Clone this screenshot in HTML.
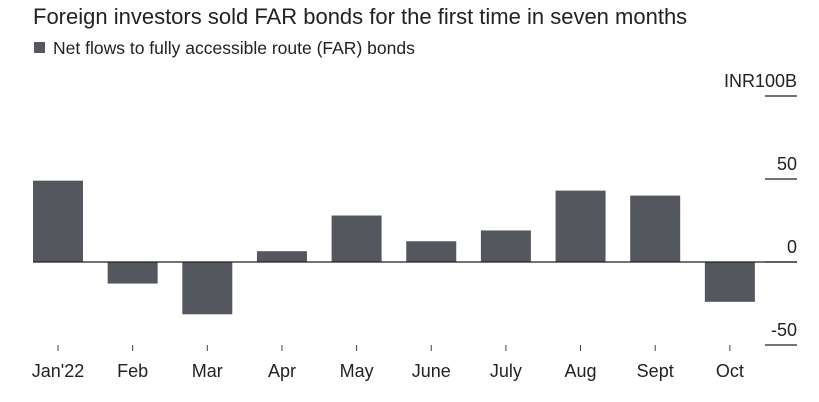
<!DOCTYPE html>
<html><head><meta charset="utf-8"><style>
body{margin:0;background:#fff;width:819px;height:402px;overflow:hidden;font-family:"Liberation Sans",sans-serif}
</style></head><body>
<svg width="819" height="402" style="position:absolute;left:0;top:0">
<text x="33" y="24" font-size="22" fill="#222">Foreign investors sold FAR bonds for the first time in seven months</text>
<rect x="34" y="42" width="11" height="11" fill="#55575f"/>
<text x="53" y="54" font-size="17.5" fill="#222">Net flows to fully accessible route (FAR) bonds</text>
<g id="axis"></g><g id="bars"></g><g id="zero"></g><g id="xaxis"></g>
</svg>
<script>
const categories=["Jan'22","Feb","Mar","Apr","May","June","July","Aug","Sept","Oct"];
const values=[49,-13,-31.5,6.5,28,12.5,19,43,40,-24];
const ticks=[100,50,0,-50];
const tickLabels=["INR100B","50","0","-50"];
const NS="http://www.w3.org/2000/svg";
function y(v){return 262-(v)*1.66;}
function x(i){return 58+i*74.65;}
function mk(t,a,p){const e=document.createElementNS(NS,t);for(const k in a)e.setAttribute(k,a[k]);p.appendChild(e);return e;}
const ax=document.getElementById('axis');
ticks.forEach((t,i)=>{
 const l=mk('line',{x1:765,x2:797,y1:y(t),y2:y(t),stroke:'#222','stroke-width':1.3},ax);
 
 
 const tx=mk('text',{x:797,y:y(t)-9,'font-size':18,fill:'#222','text-anchor':'end'},ax);
 tx.textContent=tickLabels[i];
 
 
});
const bg=document.getElementById('bars');
values.forEach((v,i)=>{
 const r=mk('rect',{x:x(i)-25,width:50,y:Math.min(y(v),y(0)),height:Math.abs(y(v)-y(0)),fill:'#55575f'},bg);
 
 
 const tk=mk('line',{x1:x(i),x2:x(i),y1:345,y2:351,stroke:'#444','stroke-width':1},document.getElementById('xaxis'));
 
 
 const tl=mk('text',{x:x(i),y:377,'font-size':18,fill:'#222','text-anchor':'middle'},document.getElementById('xaxis'));
 tl.textContent=categories[i];
 
 
});
const z=mk('line',{x1:33,x2:797,y1:y(0),y2:y(0),stroke:'#222','stroke-width':1.3},document.getElementById('zero'));


</script>
</body></html>
